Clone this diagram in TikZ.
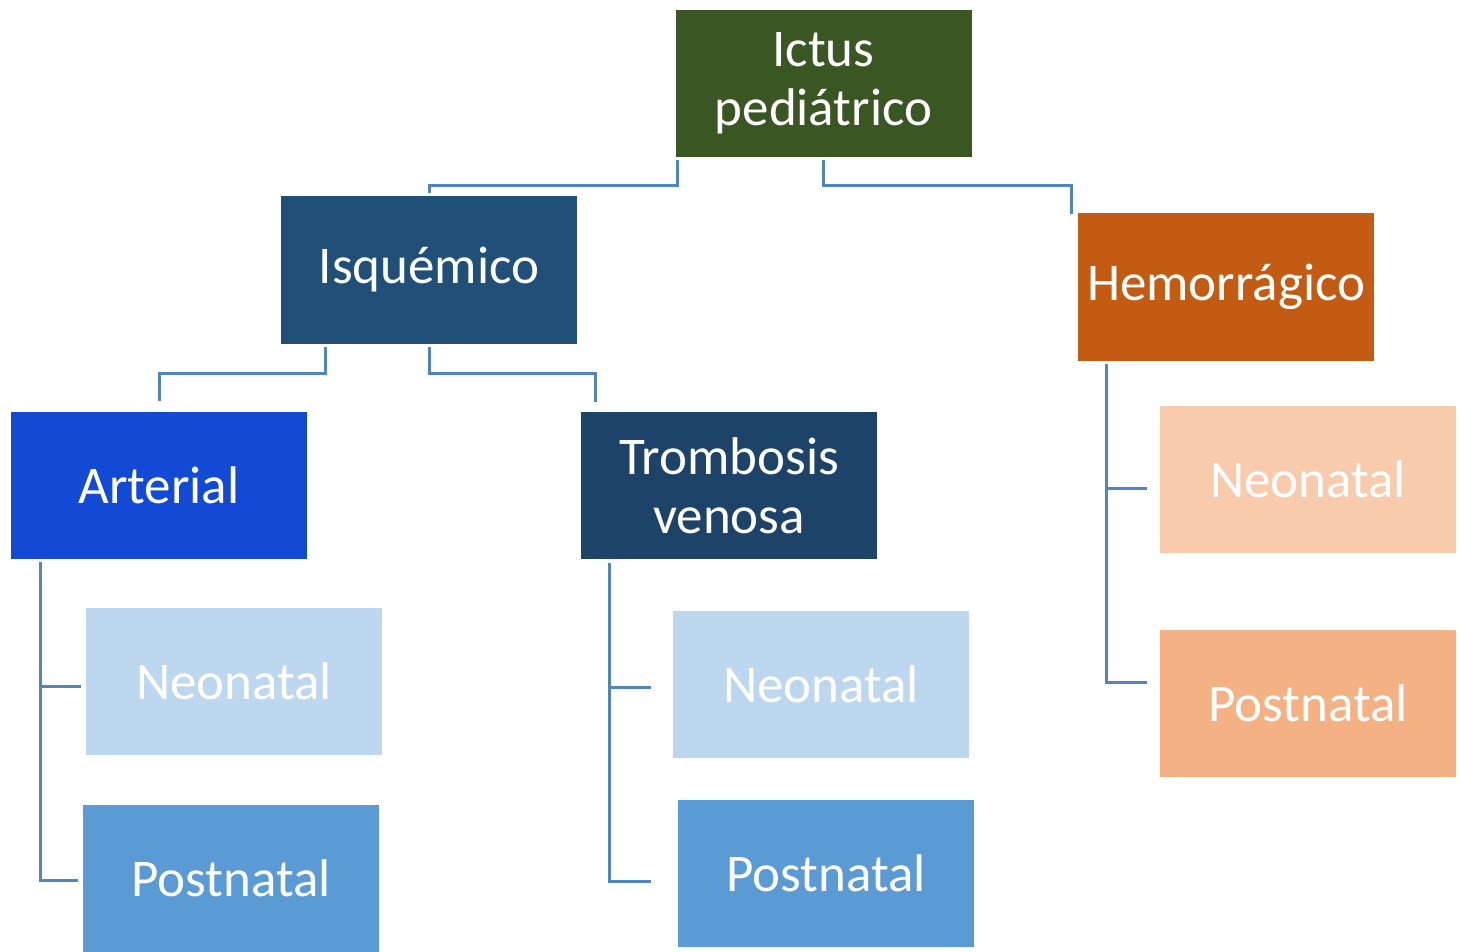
\documentclass[tikz,border=0pt]{standalone}
\usepackage{fontspec}
\setmainfont{Carlito}
\begin{document}
\begin{tikzpicture}[x=1pt,y=-1pt,
  box/.style={rectangle, minimum width=296pt, minimum height=147pt, inner sep=0pt, text=white, align=center, font=\fontsize{53}{59}\selectfont},
  conn/.style={draw=connblue, line width=3pt}]
\definecolor{connblue}{HTML}{4F86C0}
\definecolor{cgreen}{HTML}{3A5723}
\definecolor{cisq}{HTML}{204F78}
\definecolor{chem}{HTML}{C45B12}
\definecolor{cart}{HTML}{124AD6}
\definecolor{ctv}{HTML}{1E4368}
\definecolor{lblue}{HTML}{BDD7EE}
\definecolor{mblue}{HTML}{5B9BD5}
\definecolor{lorange}{HTML}{F8CBAD}
\definecolor{morange}{HTML}{F4B183}
\useasboundingbox (0,0) rectangle (1460,952);
\fill[white] (0,0) rectangle (1460,952);
\node[box, fill=cgreen] (ictus) at (823.5,83.5) {Ictus\\pediátrico};
\node[box, fill=cisq] (isq) at (429,270) {Isquémico};
\node[box, fill=chem] (hem) at (1226,287) {Hemorrágico};
\node[box, fill=cart] (art) at (159,485) {Arterial};
\node[box, fill=ctv] (tv) at (729,485.5) {Trombosis\\venosa};
\node[box, fill=lblue] (an) at (234,681) {Neonatal};
\node[box, fill=mblue] (ap) at (231,878.5) {Postnatal};
\node[box, fill=lblue] (tn) at (821,684) {Neonatal};
\node[box, fill=mblue] (tp) at (826,873) {Postnatal};
\node[box, fill=lorange] (hn) at (1308,479) {Neonatal};
\node[box, fill=morange] (hp) at (1308,703) {Postnatal};
% level 1
\draw[conn] (677,160) -- (677,186) -- (isq.north |- 0,186) -- ([yshift=3pt]isq.north);
\draw[conn] (ictus.south |- 0,160) -- (ictus.south |- 0,186) -- (1071,186) -- (1071,214);
% level 2
\draw[conn] (325,347) -- (325,373) -- (art.north |- 0,373) -- ([yshift=10pt]art.north);
\draw[conn] (isq.south |- 0,347) -- (isq.south |- 0,373) -- (595,373) -- (595,402);
% children
\draw[conn] (40,562) -- (40,880) -- ([xshift=-5pt]ap.west |- 0,880);
\draw[conn] (40,686) -- ([xshift=-5pt]an.west |- 0,686);
\draw[conn] (609,563) -- (609,881) -- (651,881);
\draw[conn] (609,687) -- (651,687);
\draw[conn] (1106,364) -- (1106,682) -- ([xshift=-13pt]hp.west |- 0,682);
\draw[conn] (1106,488) -- ([xshift=-13pt]hn.west |- 0,488);
\end{tikzpicture}
\end{document}
